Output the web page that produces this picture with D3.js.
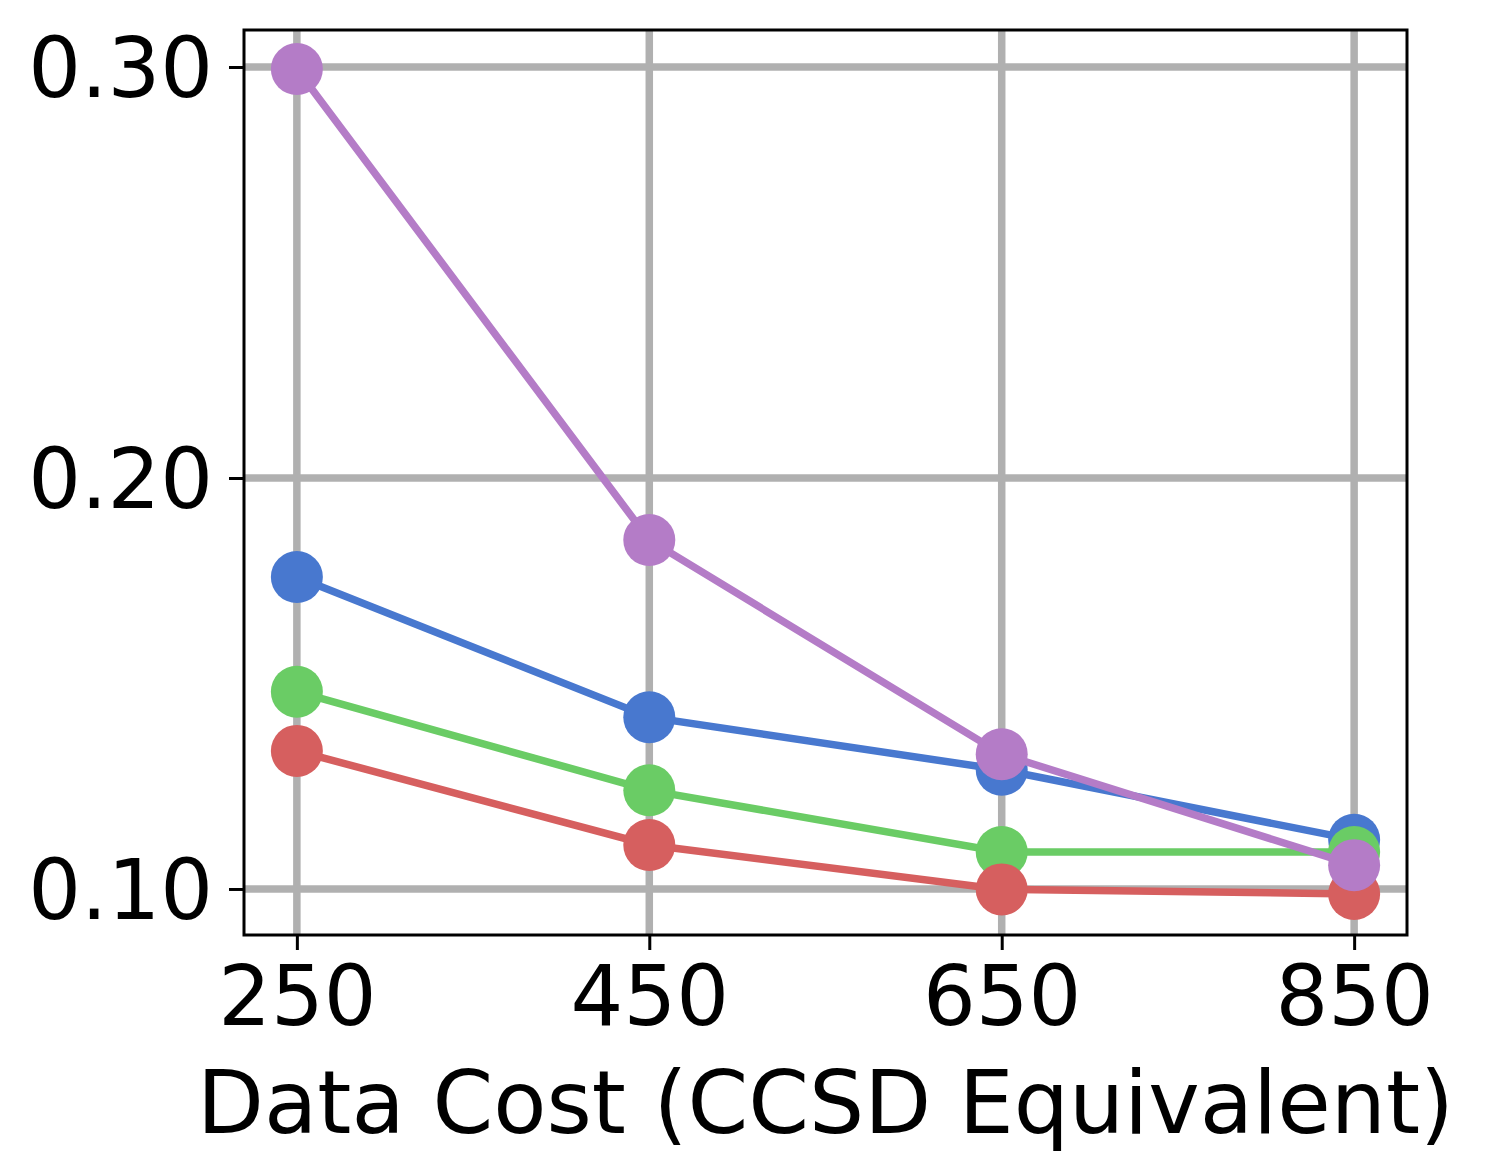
<!DOCTYPE html>
<html><head><meta charset="utf-8">
<script src="https://cdn.jsdelivr.net/npm/d3@7"></script>
<style>html,body{margin:0;padding:0;background:#fff;}svg{display:block;}</style>
</head><body>
<script>
const xValues = [250, 450, 650, 850];
const xTickLabels = ["250", "450", "650", "850"];
const yTicks = [0.10, 0.20, 0.30];
const yTickLabels = ["0.10", "0.20", "0.30"];
const seriesNames = ["blue", "green", "red", "purple"];
const seriesColors = ["#4878CF", "#6ACC65", "#D65F5F", "#B47CC7"];
const blueValues = [0.1759, 0.1418, 0.1290, 0.1120];
const greenValues = [0.1480, 0.1240, 0.1090, 0.1090];
const redValues = [0.1336, 0.1107, 0.0999, 0.0988];
const purpleValues = [0.2995, 0.1849, 0.1328, 0.1058];
const xLabel = "Data Cost (CCSD Equivalent)";

const W = 1488, H = 1176;
const L = 244, R = 1407, T = 30, B = 935;
const svg = d3.select("body").append("svg").attr("width", W).attr("height", H);
const x = d3.scaleLinear().domain([220, 880]).range([L, R]);
const y = d3.scaleLinear().domain([0.0888, 0.3090]).range([B, T]);
const font = "'DejaVu Sans', sans-serif";

// grid
const g = svg.append("g");
g.selectAll("line.vg").data(xValues).join("line")
  .attr("x1", d => x(d)).attr("x2", d => x(d)).attr("y1", T).attr("y2", B)
  .attr("stroke", "#b0b0b0").attr("stroke-width", 7.5);
g.selectAll("line.hg").data(yTicks).join("line")
  .attr("x1", L).attr("x2", R).attr("y1", d => y(d)).attr("y2", d => y(d))
  .attr("stroke", "#b0b0b0").attr("stroke-width", 7.5);

// axes
const xAxis = d3.axisBottom(x).tickValues(xValues).tickFormat((d, i) => xTickLabels[i]).tickSize(15).tickPadding(16);
const yAxis = d3.axisLeft(y).tickValues(yTicks).tickFormat((d, i) => yTickLabels[i]).tickSize(15).tickPadding(16);
const gx = svg.append("g").attr("transform", `translate(0,${B})`).call(xAxis);
const gy = svg.append("g").attr("transform", `translate(${L},0)`).call(yAxis);
[gx, gy].forEach(a => {
  a.select(".domain").remove();
  a.selectAll(".tick line").attr("stroke", "#000").attr("stroke-width", 3);
  a.selectAll(".tick text").attr("font-family", font).attr("font-size", 83).attr("fill", "#000");
});
gx.selectAll(".tick text").attr("dy", "0.71em");
gy.selectAll(".tick text").attr("dy", "0.36em");

// series
const allSeries = [blueValues, greenValues, redValues, purpleValues];
const line = d3.line().x((d, i) => x(xValues[i])).y(d => y(d));
allSeries.forEach((vals, si) => {
  const sg = svg.append("g").attr("class", "series-" + seriesNames[si]);
  sg.append("path").datum(vals).attr("d", line).attr("fill", "none")
    .attr("stroke", seriesColors[si]).attr("stroke-width", 7.5);
  sg.selectAll("circle").data(vals).join("circle")
    .attr("cx", (d, i) => x(xValues[i])).attr("cy", d => y(d)).attr("r", 26)
    .attr("fill", seriesColors[si]);
});

// frame
svg.append("rect").attr("x", L).attr("y", T).attr("width", R - L).attr("height", B - T)
  .attr("fill", "none").attr("stroke", "#000").attr("stroke-width", 3);

svg.append("text").attr("x", (L + R) / 2).attr("y", 1133).attr("text-anchor", "middle")
  .attr("font-family", font).attr("font-size", 87).attr("fill", "#000").text(xLabel);
</script>
</body></html>
